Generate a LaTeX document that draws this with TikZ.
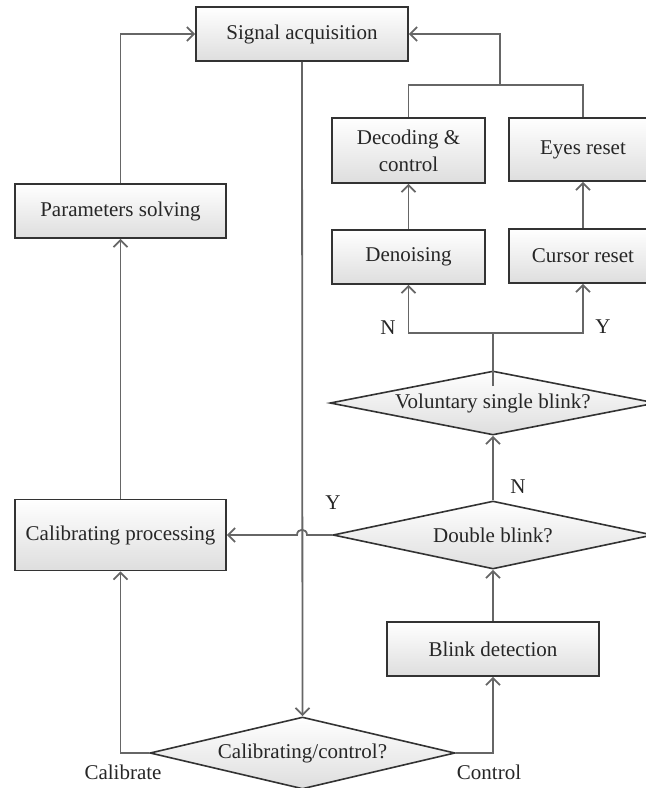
\documentclass[tikz,border=0pt]{standalone}
\usepackage{fontspec}
\setmainfont{Liberation Serif}
\usetikzlibrary{shapes.geometric,arrows.meta}
\begin{document}
\begin{tikzpicture}
  [x=0.5pt,y=-0.5pt,font=\fontsize{10.5}{13.5}\selectfont,
   box/.style={draw=black!80,line width=0.8pt,top color=white,bottom color=black!13,
     inner sep=0pt,align=center,text=black!85},
   decide/.style={diamond,draw=black!80,line width=0.8pt,top color=white,bottom color=black!13,
     inner sep=0pt,aspect=5,text=black!85},
   lbl/.style={text=black!85},
   link/.style={draw=black!60,line width=0.9pt},
   arrow/.style={link,-{Straight Barb[length=3.5pt,width=7pt]}}]
  \useasboundingbox (0,0) rectangle (646,788);
  \clip (0,0) rectangle (646,788);

  \node[box,minimum width=106pt,minimum height=27pt]   (sig) at (302,34)    {Signal acquisition};
  \node[box,minimum width=105.5pt,minimum height=27pt] (par) at (120.5,211) {Parameters solving};
  \node[box,minimum width=105.5pt,minimum height=35.5pt] (cal) at (120.5,535) {Calibrating processing};
  \node[box,minimum width=76.5pt,minimum height=32.5pt] (dec) at (408.5,150.5) {Decoding \&\\control};
  \node[box,minimum width=74pt,minimum height=31.5pt]  (eye) at (583,149.5) {Eyes reset};
  \node[box,minimum width=76.5pt,minimum height=27pt]  (den) at (408.5,257) {Denoising};
  \node[box,minimum width=74pt,minimum height=27pt]    (cur) at (583,256)   {Cursor reset};
  \node[decide,minimum width=163pt,minimum height=32pt] (vol) at (493,403) {Voluntary single blink?};
  \node[decide,minimum width=160pt,minimum height=34pt] (dbl) at (493,535) {Double blink?};
  \node[box,minimum width=106pt,minimum height=27pt]   (blk) at (493,649)   {Blink detection};
  \node[decide,minimum width=152.5pt,minimum height=36pt] (cc) at (302.5,753) {Calibrating/control?};

  \node[lbl] (lN1) at (388,328) {N};
  \node[lbl] (lY1) at (603,327) {Y};
  \node[lbl] (lN2) at (518,487) {N};
  \node[lbl] (lY2) at (333,503) {Y};
  \node[lbl] (lcal) at (123,772) {Calibrate};
  \node[lbl] (lctl) at (489,772) {Control};

  \coordinate (jn) at (500,85);
  \coordinate (sp) at (493,333);
  \coordinate (hopR) at (307,535);
  \coordinate (hopL) at (297,535);

  \draw [arrow] (par.north) |- (sig.west);
  \draw [arrow] (sig.south) -- (cc.north);
  \draw [arrow] (cc.west) -| (cal.south);
  \draw [arrow] (cc.east) -| (blk.south);
  \draw [arrow] (dbl.west) -- (hopR) .. controls +(0,-7) and +(0,-7) .. (hopL) -- (cal.east);
  \draw [link] ([yshift=-8pt]vol.north) -- (sp);
  \draw [arrow] (sp) -| (den.south);
  \draw [arrow] (sp) -| (cur.south);
  \draw [link] (dec.north) |- (jn) -| (eye.north);
  \draw [arrow] (jn) |- (sig.east);
  \foreach \from/\to in {cal/par,blk/dbl,dbl/vol,den/dec,cur/eye}
    \draw [arrow] (\from.north) -- (\to.south);
\end{tikzpicture}
\end{document}
